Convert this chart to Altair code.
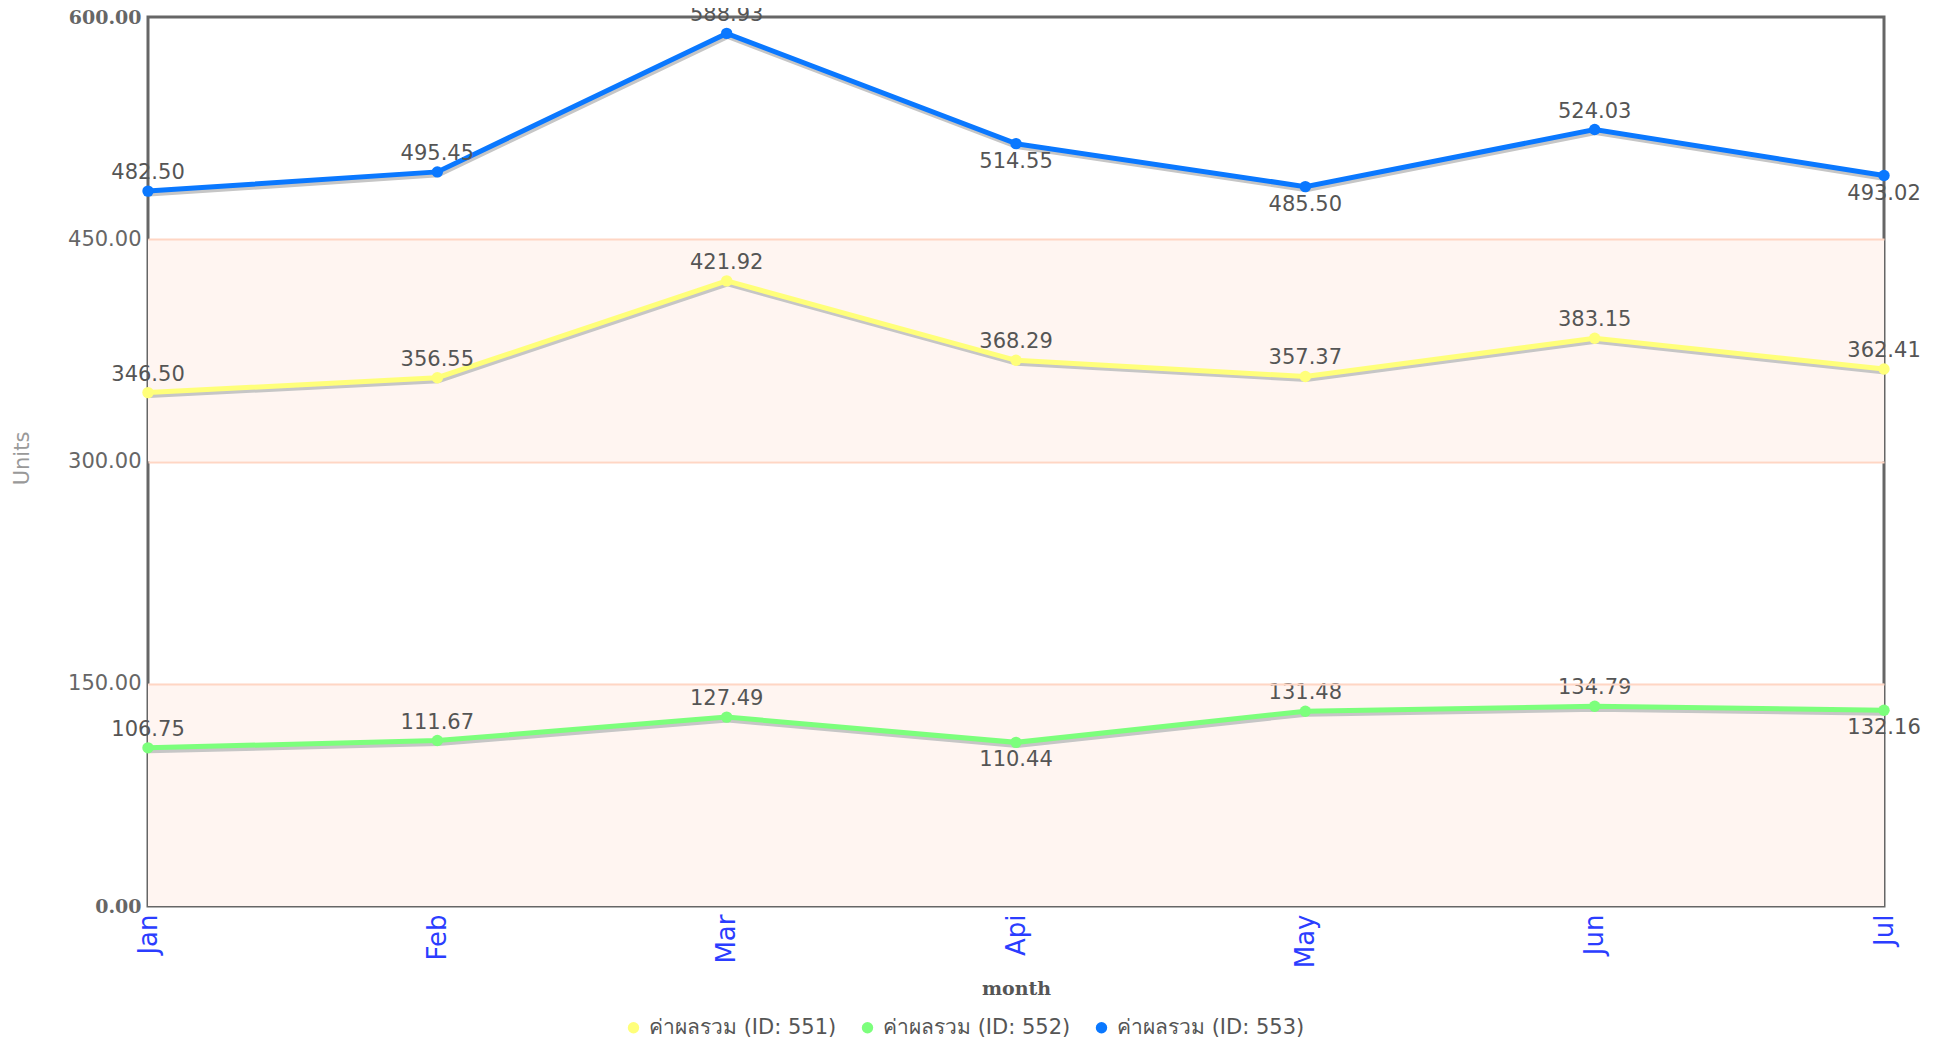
import altair as alt
import pandas as pd

months = ["Jan", "Feb", "Mar", "Api", "May", "Jun", "Jul"]
series_names = ["ค่าผลรวม (ID: 551)", "ค่าผลรวม (ID: 552)", "ค่าผลรวม (ID: 553)"]
s551 = [346.50, 356.55, 421.92, 368.29, 357.37, 383.15, 362.41]
s552 = [106.75, 111.67, 127.49, 110.44, 131.48, 134.79, 132.16]
s553 = [482.50, 495.45, 588.93, 514.55, 485.50, 524.03, 493.02]
# whether each value label sits below its point
below_551 = [False, False, False, False, False, False, False]
below_552 = [False, False, False, True, False, False, True]
below_553 = [False, False, False, True, True, False, True]
colors = ["#FFFF7A", "#7CFF7C", "#0A78FF"]
band_lo = [0, 300]
band_hi = [150, 450]
y_ticks = [0, 150, 300, 450, 600]

rows = []
for name, vals, below in zip(series_names, [s551, s552, s553], [below_551, below_552, below_553]):
    for m, v, b in zip(months, vals, below):
        rows.append({"month": m, "series": name, "line": name, "value": v,
                     "below": b, "label": f"{v:.2f}"})
df = pd.DataFrame(rows)
bands = pd.DataFrame({"lo": band_lo, "hi": band_hi})

W, H = 1736, 889
FONT = "DejaVu Sans"
EDGE = "datum.value == 0 || datum.value == 600"

x_enc = alt.X(
    "month:N", sort=months,
    scale=alt.Scale(type="point", padding=0),
    axis=alt.Axis(
        title="month", titleFont="DejaVu Serif", titleFontWeight="bold", titleColor="#555555",
        titleFontSize=19, titleY=82, titleBaseline="middle",
        labelAngle=270, labelColor="#2B3DFF", labelFont=FONT, labelFontSize=26,
        labelAlign="right", labelBaseline="middle", labelPadding=8,
        tickSize=0, domain=False, grid=False,
    ),
)
y_scale = alt.Scale(domain=[0, 600], nice=False, zero=True)
y_axis = alt.Axis(
    values=y_ticks, format=".2f", title="Units",
    titleColor="#999999", titleFont=FONT, titleFontWeight="normal", titleFontSize=21,
    titleAngle=270, titleX=-126, titleY=441, titleBaseline="middle",
    labelColor="#666666",
    labelFontSize={"condition": {"test": EDGE, "value": 19}, "value": 21},
    labelFont={"condition": {"test": EDGE, "value": "DejaVu Serif"}, "value": FONT},
    labelFontWeight={"condition": {"test": EDGE, "value": "bold"}, "value": "normal"},
    labelPadding=7, tickSize=0, domain=False,
    grid=True, gridWidth=2, zindex=1,
    gridColor={"condition": {"test": EDGE, "value": "transparent"}, "value": "#FFD6C4"},
)
y_enc = alt.Y("value:Q", scale=y_scale, axis=y_axis)
color_scale = alt.Scale(domain=series_names, range=colors)
legend = alt.Legend(
    title=None, orient="none", legendX=475, legendY=1000, direction="horizontal",
    symbolType="circle", symbolSize=130, symbolStrokeWidth=0,
    labelFont=FONT, labelFontSize=21, labelColor="#555555", columnPadding=20,
    labelOffset=5, labelLimit=0,
)

band_layer = alt.Chart(bands).mark_rect(color="#FFF5F1").encode(
    y=alt.Y("lo:Q", scale=y_scale, axis=y_axis), y2="hi:Q"
)

base = alt.Chart(df)

shadow = base.mark_line(strokeWidth=5, color="#C6C6C6", yOffset=3, xOffset=1).encode(
    x=x_enc, y=y_enc, detail="series:N"
)
lines = base.mark_line(strokeWidth=5).encode(
    x=x_enc, y=y_enc,
    stroke=alt.Stroke("line:N", scale=alt.Scale(range=colors), legend=None),
)
points = base.mark_circle(size=130, opacity=1).encode(
    x=x_enc, y=y_enc, color=alt.Color("series:N", scale=color_scale, legend=legend)
)
labels_above = base.transform_filter("!datum.below").mark_text(
    font=FONT, fontSize=21, color="#555555", yOffset=-18, baseline="middle"
).encode(x=x_enc, y=y_enc, text="label:N")
labels_below = base.transform_filter("datum.below").mark_text(
    font=FONT, fontSize=21, color="#555555", yOffset=18, baseline="middle"
).encode(x=x_enc, y=y_enc, text="label:N")

chart = alt.layer(band_layer, shadow, lines, points, labels_above, labels_below).properties(
    width=W, height=H,
    autosize=alt.AutoSizeParams(type="none"),
    padding={"left": 140, "top": 9, "right": 44, "bottom": 134},
    background="white",
).configure_view(stroke="#666666", strokeWidth=3)

chart.save("out.html", embed_options={"renderer": "svg", "actions": False})
